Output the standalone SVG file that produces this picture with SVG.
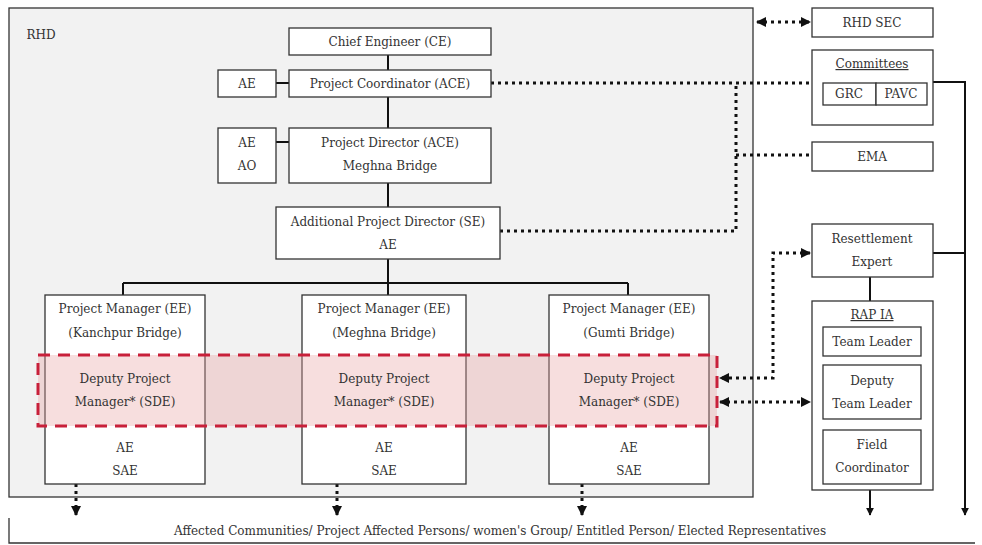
<svg xmlns="http://www.w3.org/2000/svg" width="982" height="545" viewBox="0 0 982 545">
<style>
text{font-family:"DejaVu Serif","Liberation Serif",serif;font-size:12px;fill:#333;text-anchor:middle}
.box{fill:#fff;stroke:#333;stroke-width:1.3}
.ln{fill:none;stroke:#111;stroke-width:2}
.dot{fill:none;stroke:#111;stroke-width:3;stroke-dasharray:3 4}
.u{text-decoration:underline}
</style>
<defs>
<marker id="ah" viewBox="0 0 10 10" refX="9" refY="5" markerWidth="10" markerHeight="10" markerUnits="userSpaceOnUse" orient="auto-start-reverse"><path d="M0,0 L10,5 L0,10 z" fill="#111"/></marker>
<marker id="as" viewBox="0 0 10 10" refX="9" refY="5" markerWidth="8" markerHeight="8" markerUnits="userSpaceOnUse" orient="auto"><path d="M0,0 L10,5 L0,10 z" fill="#111"/></marker>
</defs>
<rect width="982" height="545" fill="#fff"/>
<g id="rhd">
<rect x="9" y="8" width="744" height="489" fill="#f2f2f2" stroke="#333" stroke-width="1.3"/>
<text x="41" y="39">RHD</text>
</g>
<g id="connectors">
<path class="ln" d="M388,55 V128 M276,83 H289 M276,142 H289 M388,183 V207 M388,259 V283 M123,283 H628 M123,283 V295 M388,283 V295 M628,283 V295"/>
<path class="ln" d="M870,277 V301 M870,356 V365 M870,419 V430"/>
<path class="ln" d="M933,82 H965 V515" marker-end="url(#as)"/>
<path class="ln" d="M933,253 H965"/>
<path class="ln" d="M870,490 V515" marker-end="url(#as)"/>
<path class="dot" d="M491,83 H812"/>
<path class="dot" d="M500,231 H736 V83"/>
<path class="dot" d="M736,155 H812"/>
<path class="dot" d="M757,22 H810" marker-start="url(#ah)" marker-end="url(#ah)"/>
<path class="dot" d="M810,253 H773 V378 H720" marker-start="url(#ah)" marker-end="url(#ah)"/>
<path class="dot" d="M720,402 H810" marker-start="url(#ah)" marker-end="url(#ah)"/>
<path class="dot" d="M76,428 V515" marker-end="url(#ah)"/>
<path class="dot" d="M337,428 V515" marker-end="url(#ah)"/>
<path class="dot" d="M582,428 V515" marker-end="url(#ah)"/>
</g>
<g id="ce"><rect class="box" x="289" y="28" width="202" height="27"/><text x="390" y="46">Chief Engineer (CE)</text></g>
<g id="ae1"><rect class="box" x="218" y="70" width="58" height="27"/><text x="247" y="88">AE</text></g>
<g id="pc"><rect class="box" x="289" y="70" width="202" height="27"/><text x="390" y="88">Project Coordinator (ACE)</text></g>
<g id="aeao"><rect class="box" x="218" y="128" width="58" height="55"/><text x="247" y="147">AE</text><text x="247" y="170">AO</text></g>
<g id="pd"><rect class="box" x="289" y="128" width="202" height="55"/><text x="390" y="147">Project Director (ACE)</text><text x="390" y="170">Meghna Bridge</text></g>
<g id="apd"><rect class="box" x="276" y="207" width="224" height="52"/><text x="388" y="226">Additional Project Director (SE)</text><text x="388" y="249">AE</text></g>
<g id="pm1"><rect class="box" x="45" y="295" width="160" height="189"/><text x="125" y="313">Project Manager (EE)</text><text x="125" y="337">(Kanchpur Bridge)</text></g>
<g id="pm2"><rect class="box" x="302" y="295" width="164" height="189"/><text x="384" y="313">Project Manager (EE)</text><text x="384" y="337">(Meghna Bridge)</text></g>
<g id="pm3"><rect class="box" x="549" y="295" width="160" height="189"/><text x="629" y="313">Project Manager (EE)</text><text x="629" y="337">(Gumti Bridge)</text></g>
<g id="dpm">
<rect x="38" y="355" width="679" height="71" fill="#e8a0a0" fill-opacity="0.35" stroke="#c8203a" stroke-width="3" stroke-dasharray="12 8"/>
<text x="125" y="383">Deputy Project</text><text x="125" y="406">Manager* (SDE)</text>
<text x="384" y="383">Deputy Project</text><text x="384" y="406">Manager* (SDE)</text>
<text x="629" y="383">Deputy Project</text><text x="629" y="406">Manager* (SDE)</text>
</g>
<g id="pm-staff">
<text x="125" y="452">AE</text><text x="125" y="475">SAE</text>
<text x="384" y="452">AE</text><text x="384" y="475">SAE</text>
<text x="629" y="452">AE</text><text x="629" y="475">SAE</text>
</g>
<g id="rhdsec"><rect class="box" x="812" y="8" width="121" height="29"/><text x="872" y="27">RHD SEC</text></g>
<g id="committees"><rect class="box" x="812" y="50" width="121" height="75"/><text class="u" x="872" y="68">Committees</text>
<rect class="box" x="823" y="83" width="53" height="22"/><rect class="box" x="876" y="83" width="51" height="22"/>
<text x="849" y="98">GRC</text><text x="901" y="98">PAVC</text></g>
<g id="ema"><rect class="box" x="812" y="142" width="121" height="29"/><text x="872" y="161">EMA</text></g>
<g id="re"><rect class="box" x="812" y="224" width="121" height="53"/><text x="872" y="243">Resettlement</text><text x="872" y="266">Expert</text></g>
<g id="rapia"><rect class="box" x="812" y="301" width="121" height="189"/><text class="u" x="872" y="319">RAP IA</text></g>
<g id="tl"><rect class="box" x="823" y="327" width="98" height="29"/><text x="872" y="346">Team Leader</text></g>
<g id="dtl"><rect class="box" x="823" y="365" width="98" height="54"/><text x="872" y="385">Deputy</text><text x="872" y="408">Team Leader</text></g>
<g id="fc"><rect class="box" x="823" y="430" width="98" height="54"/><text x="872" y="449">Field</text><text x="872" y="472">Coordinator</text></g>
<g id="affected">
<path d="M9,518 V543 H975" fill="none" stroke="#333" stroke-width="1.3"/>
<text x="500" y="535">Affected Communities/ Project Affected Persons/ women's Group/ Entitled Person/ Elected Representatives</text>
</g>
</svg>
